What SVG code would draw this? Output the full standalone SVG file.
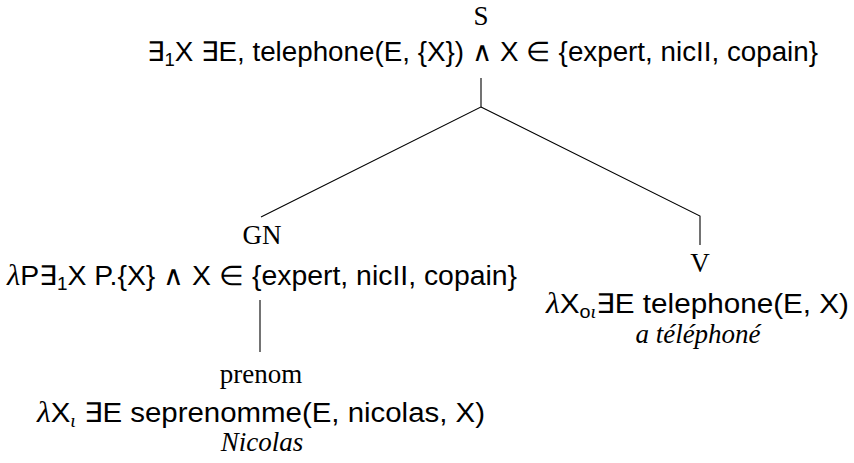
<svg xmlns="http://www.w3.org/2000/svg" width="854" height="463" viewBox="0 0 854 463">
<style>
.cat{font-family:"Liberation Serif",serif;font-size:27px;fill:#000;text-anchor:middle}
.sem{font-family:"Liberation Sans",sans-serif;font-size:27px;fill:#000}
.word{font-family:"Liberation Serif",serif;font-style:italic;font-size:27px;fill:#000;text-anchor:middle}
.gk{font-family:"Liberation Serif",serif;font-style:italic;font-size:29px}
.sub{font-size:18px}
.edge{stroke:#000;stroke-width:1.1;fill:none}
</style>
<rect width="854" height="463" fill="#fff"/>
<g id="connectors">
<polyline class="edge" points="481,78 481,107 261,217"/>
<polyline class="edge" points="481,107 700,216 700,245"/>
<line class="edge" x1="260" y1="300" x2="260" y2="352"/>
</g>
<g id="S">
<text class="cat" x="481" y="25">S</text>
<text class="sem" x="147" y="61" textLength="671" lengthAdjust="spacingAndGlyphs">∃<tspan class="sub" dy="5">1</tspan><tspan dy="-5">X ∃E, telephone(E, {X}) ∧ X ∈ {expert, nicII, copain}</tspan></text>
</g>
<g id="GN">
<text class="cat" x="262" y="244">GN</text>
<text class="sem" x="7" y="285" textLength="510" lengthAdjust="spacingAndGlyphs"><tspan class="gk">λ</tspan>P∃<tspan class="sub" dy="5">1</tspan><tspan dy="-5">X P.{X} ∧ X ∈ {expert, nicII, copain}</tspan></text>
</g>
<g id="prenom">
<text class="cat" x="261" y="383">prenom</text>
<text class="sem" x="37" y="422" textLength="448" lengthAdjust="spacingAndGlyphs"><tspan class="gk">λ</tspan>X<tspan class="gk sub" dy="5">ι</tspan><tspan dy="-5"> ∃E seprenomme(E, nicolas, X)</tspan></text>
<text class="word" x="262" y="451">Nicolas</text>
</g>
<g id="V">
<text class="cat" x="700" y="272">V</text>
<text class="sem" x="546" y="313" textLength="303" lengthAdjust="spacingAndGlyphs"><tspan class="gk">λ</tspan>X<tspan class="sub" dy="5">o</tspan><tspan class="gk sub">ι</tspan><tspan dy="-5">∃E telephone(E, X)</tspan></text>
<text class="word" x="698" y="343">a téléphoné</text>
</g>
</svg>
